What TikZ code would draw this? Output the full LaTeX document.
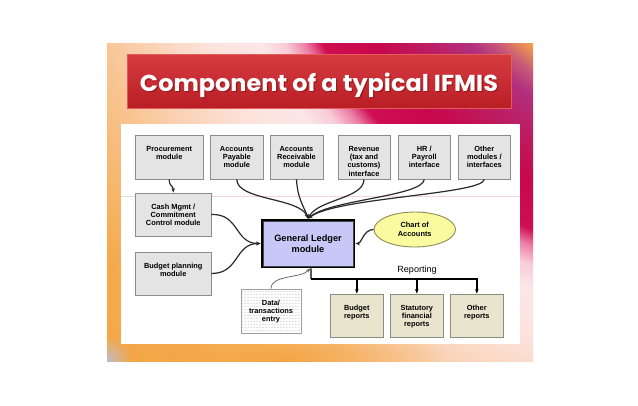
\documentclass[tikz,border=0pt]{standalone}
\usepackage{fontspec}
\setmainfont{Liberation Sans}
\newfontfamily\titlefont{Poppins}
\usetikzlibrary{arrows.meta,patterns,fadings,shapes.geometric}

\definecolor{cO}{HTML}{EF9C4E}
\definecolor{cA}{HTML}{C85A78}
\definecolor{cB}{HTML}{B2307E}
\definecolor{cC}{HTML}{BE1A5E}
\definecolor{cD}{HTML}{C8084C}
\definecolor{cE}{HTML}{CE0E50}
\definecolor{cF}{HTML}{EC7CA4}
\definecolor{cG}{HTML}{F8CCD8}
\definecolor{cH}{HTML}{FCE6E8}
\definecolor{cI}{HTML}{FCE2DA}
\definecolor{cJ}{HTML}{FAD0B0}
\definecolor{cK}{HTML}{F7BE80}
\definecolor{cL}{HTML}{F4AA4C}
\definecolor{cM}{HTML}{F4A646}
\definecolor{tbTop}{HTML}{D63C40}
\definecolor{tbBot}{HTML}{B81E24}
\definecolor{tbBorder}{HTML}{E25C5E}
\definecolor{gfill}{HTML}{E4E4E4}
\definecolor{gborder}{HTML}{8C8C8C}
\definecolor{rfill}{HTML}{E8E4CD}
\definecolor{rborder}{HTML}{8C8C80}
\definecolor{glfill}{HTML}{C8C8F8}
\definecolor{chfill}{HTML}{FAFA9E}
\definecolor{chborder}{HTML}{8C8C5A}
\definecolor{lineC}{HTML}{2A2A2A}
\definecolor{pinkline}{HTML}{F2D4DC}
\definecolor{cornerblue}{HTML}{B4C2E4}

\pgfdeclareradialshading{bgshade}{\pgfpoint{0bp}{0bp}}{color(0bp)=(cO); color(265bp)=(cO); color(285bp)=(cA); color(305bp)=(cB); color(345bp)=(cC); color(380bp)=(cD); color(425bp)=(cE); color(440bp)=(cF); color(458bp)=(cG); color(480bp)=(cH); color(530bp)=(cI); color(590bp)=(cJ); color(650bp)=(cK); color(720bp)=(cL); color(820bp)=(cM)}

\tikzfading[name=cornerfade, inner color=transparent!0, outer color=transparent!100]

\newcommand\bt[3]{\parbox[c][#2][t]{#1}{\centering\vspace*{10.6bp}\rule{0pt}{5.4bp}#3\par}}

\tikzset{
  gbox/.style={draw=gborder, fill=gfill, line width=0.9bp, inner sep=0pt,
    font=\fontsize{7.4bp}{8.4bp}\selectfont\bfseries},
  rbox/.style={gbox, draw=rborder, fill=rfill},
  dbox/.style={gbox, draw=gray!75, preaction={fill=white}, fill=none, pattern=dots, pattern color=gray!70},
  glbox/.style={draw=black, fill=glfill, line width=2.8bp, minimum width=92bp, minimum height=47bp,
    inner sep=0pt, align=center, font=\fontsize{9.2bp}{11bp}\selectfont\bfseries},
  chbox/.style={ellipse, draw=chborder, fill=chfill, line width=0.9bp, minimum width=81.5bp,
    minimum height=35bp, inner sep=0pt, align=center, font=\fontsize{7.4bp}{8.6bp}\selectfont\bfseries},
  conn/.style={draw=lineC, line width=1.2bp, -{Stealth[length=4.5bp,width=3.6bp]}},
  thinconn/.style={draw=gray!70!black, line width=0.7bp, -{Stealth[length=4bp,width=3.2bp]}},
  rline/.style={draw=black, line width=1.4bp},
  rarrow/.style={rline, -{Stealth[length=4.5bp,width=3.6bp]}},
}

\begin{document}
\begin{tikzpicture}[x=1bp,y=-1bp]
\useasboundingbox (0,0) rectangle (638,405);
\fill[white] (0,0) rectangle (638,405);

% background frame
\begin{scope}
  \clip (107,43) rectangle (533,361);
  \node[inner sep=0pt] (bgsh) at (693,-164) {\pgfuseshading{bgshade}};
  \fill[cM, path fading=cornerfade] (110,305) rectangle (450,417);
  \fill[cornerblue, opacity=0.8, path fading=cornerfade] (107,361) circle (24bp);
\end{scope}

% title bar
\shade[top color=tbTop, bottom color=tbBot, draw=tbBorder, line width=1bp] (127,54) rectangle (511,108);
\node[font=\titlefont\bfseries, text=black!60!red, opacity=0.5, anchor=base] (titleshadow) at (320.2,92.9)
  {\resizebox{358bp}{18.5bp}{Component of a typical IFMIS}};
\node[font=\titlefont\bfseries, text=white, anchor=base] (title) at (319,91.7)
  {\resizebox{358bp}{18.5bp}{Component of a typical IFMIS}};

% white panel
\fill[white] (121,124) rectangle (520,344);
\draw[pinkline, line width=0.8bp] (121,196) -- (520,196);

% top row
\node[gbox] (proc) at (169.25,157) {\bt{67.5bp}{44bp}{Procurement\\module}};
\node[gbox] (ap) at (236.8,157) {\bt{52.4bp}{44bp}{Accounts\\Payable\\module}};
\node[gbox] (ar) at (296.5,157) {\bt{53bp}{44bp}{Accounts\\Receivable\\module}};
\node[gbox] (rev) at (364,157) {\bt{52bp}{44bp}{Revenue\\(tax and\\customs)\\interface}};
\node[gbox] (hr) at (424.3,157) {\bt{52.6bp}{44bp}{HR /\\Payroll\\interface}};
\node[gbox] (oth) at (484.3,157) {\bt{52.6bp}{44bp}{Other\\modules /\\interfaces}};

% left column
\node[gbox] (cash) at (173.25,214.5) {\bt{75.5bp}{43bp}{Cash Mgmt /\\Commitment\\Control module}};
\node[gbox] (bud) at (173.25,273.5) {\bt{75.5bp}{43bp}{Budget planning\\module}};

% general ledger
\node[glbox] (gl) at (308,243.5) {General Ledger\\module};
\draw[gray!55!black, line width=0.6bp] ([shift={(2.2,2.2)}]gl.north west) rectangle ([shift={(-2.2,-2.2)}]gl.south east);

% chart of accounts
\node[chbox] (chart) at (414.75,229.5) {Chart of\\Accounts};

% data entry
\node[dbox] (data) at (271,311) {\bt{60bp}{44bp}{Data/\\transactions\\entry}};

% reports
\node[rbox] (r1) at (356.8,315.5) {\bt{52.4bp}{43bp}{Budget\\reports}};
\node[rbox] (r2) at (416.8,315.5) {\bt{52.4bp}{43bp}{Statutory\\financial\\reports}};
\node[rbox] (r3) at (476.8,315.5) {\bt{52.4bp}{43bp}{Other\\reports}};
\node[font=\fontsize{9bp}{11bp}\selectfont] (replabel) at (417,270) {Reporting};

% connectors
\draw[conn] (proc.south) .. controls +(0,8) and +(0,-8) .. (cash.north);
\draw[conn] (ap.south) .. controls +(0,21) and +(-8,-21) .. (gl.north);
\draw[conn] (ar.south) .. controls +(1,20) and +(-3,-10) .. (gl.north);
\draw[conn] (rev.south) .. controls +(0,19) and +(10,-19) .. (gl.north);
\draw[conn] (hr.south) .. controls +(-2,17) and +(22,-19) .. (gl.north);
\draw[conn] (oth.south) .. controls +(-2,15) and +(27,-21) .. (gl.north);
\draw[conn] (cash.east) .. controls +(28,-1) and +(-26,0) .. (gl.west);
\draw[conn] (bud.east) .. controls +(28,0) and +(-26,0) .. (gl.west);
\draw[conn] (chart.west) .. controls +(-10,0) and +(6,0) .. (gl.east);
\draw[thinconn] (data.north) .. controls +(0,-14) and +(-8,10) .. ([xshift=2bp]gl.south);

% reporting tree
\coordinate (rj) at (311,279);
\draw[rline] ([xshift=3bp]gl.south) -- (rj);
\draw[rarrow] (rj) -| (r3.north);
\draw[rarrow] (r1.north |- rj) -- (r1.north);
\draw[rarrow] (r2.north |- rj) -- (r2.north);
\end{tikzpicture}
\end{document}
